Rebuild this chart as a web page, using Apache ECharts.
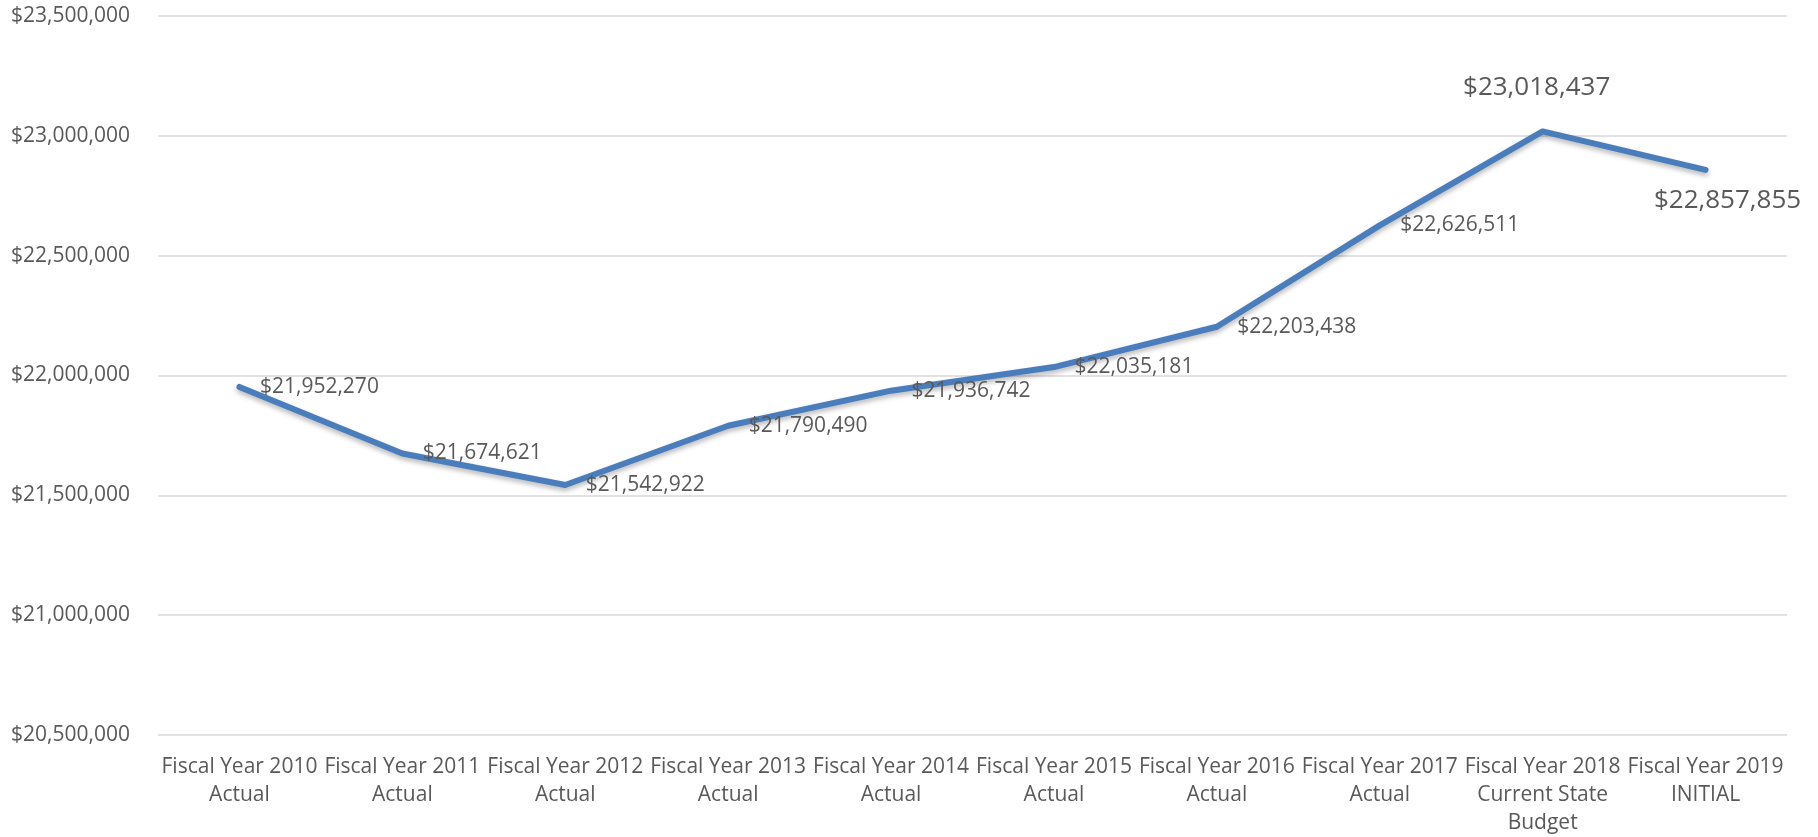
<!DOCTYPE html>
<html>
<head>
<meta charset="utf-8">
<script src="https://cdn.jsdelivr.net/npm/echarts@6/dist/echarts.min.js"></script>
<style>
  html, body { margin: 0; padding: 0; background: #fff; }
  #chart { width: 1818px; height: 837px; }
</style>
</head>
<body>
<div id="chart"></div>
<script>
// Fiscal years shown on the x axis
const categories = [
  'Fiscal Year 2010\nActual',
  'Fiscal Year 2011\nActual',
  'Fiscal Year 2012\nActual',
  'Fiscal Year 2013\nActual',
  'Fiscal Year 2014\nActual',
  'Fiscal Year 2015\nActual',
  'Fiscal Year 2016\nActual',
  'Fiscal Year 2017\nActual',
  'Fiscal Year 2018\nCurrent State\nBudget',
  'Fiscal Year 2019\nINITIAL'
];

// Budget totals per fiscal year
const budgetValues = [
  21952270, 21674621, 21542922, 21790490, 21936742,
  22035181, 22203438, 22626511, 23018437, 22857855
];

// Value axis range
const yMin = 20500000;
const yMax = 23500000;
const yStep = 500000;

const FONT = '"Open Sans", "Noto Sans", sans-serif';
const TEXT = '#595959';
const LINE = '#4a7dbb';

const money = v => '$' + Math.round(v).toLocaleString('en-US');

// Per-point label placement: most to the right, the last two enlarged
const seriesData = budgetValues.map((v, i) => {
  const item = { value: v };
  if (i === 8) {
    item.label = { position: 'top', distance: 30, fontSize: 26 };
  } else if (i === 9) {
    item.label = { position: 'bottom', distance: 17, fontSize: 26 };
  }
  return item;
});

// Small horizontal nudges for the enlarged labels
const labelShift = { 8: -6, 9: 22 };

const chart = echarts.init(document.getElementById('chart'), null, { renderer: 'canvas' });
chart.setOption({
  animation: false,
  backgroundColor: '#ffffff',
  grid: { left: 158, right: 31, top: 16, bottom: 102, containLabel: false },
  xAxis: {
    type: 'category',
    data: categories,
    boundaryGap: true,
    axisLine: { show: false },
    axisTick: { show: false },
    axisLabel: {
      color: TEXT,
      fontFamily: FONT,
      fontSize: 21,
      lineHeight: 28,
      margin: 18,
      interval: 0
    }
  },
  yAxis: {
    type: 'value',
    min: yMin,
    max: yMax,
    interval: yStep,
    axisLine: { show: false },
    axisTick: { show: false },
    splitLine: { lineStyle: { color: '#d9d9d9', width: 1.5 } },
    axisLabel: {
      color: TEXT,
      fontFamily: FONT,
      fontSize: 21,
      margin: 28,
      formatter: money
    }
  },
  series: [{
    type: 'line',
    data: seriesData,
    symbol: 'circle',
    symbolSize: 1,
    showSymbol: true,
    itemStyle: { color: 'rgba(0,0,0,0)' },
    smooth: false,
    lineStyle: {
      color: LINE,
      width: 6,
      cap: 'round',
      join: 'round',
      shadowColor: 'rgba(0,0,0,0.28)',
      shadowBlur: 5,
      shadowOffsetY: 3
    },
    label: {
      show: true,
      position: 'right',
      distance: 20,
      color: TEXT,
      fontFamily: FONT,
      fontSize: 21,
      formatter: p => money(p.value)
    },
    labelLayout: p => (p.dataIndex in labelShift ? { dx: labelShift[p.dataIndex], hideOverlap: false } : { hideOverlap: false })
  }]
});
</script>
</body>
</html>
